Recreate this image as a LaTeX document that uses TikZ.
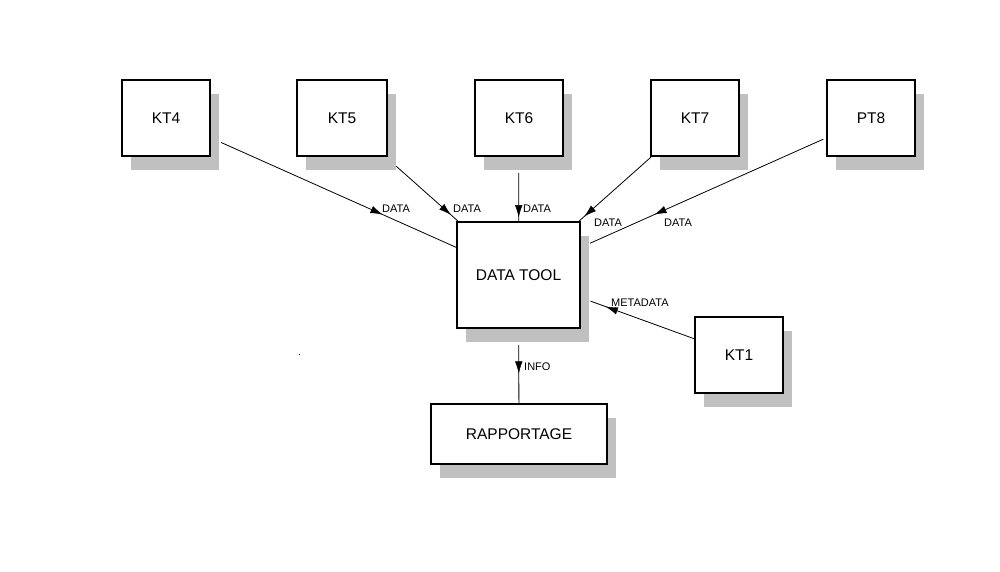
\documentclass[tikz,border=0pt]{standalone}
\usepackage{fontspec}
\setmainfont{Liberation Sans}
\usetikzlibrary{shadows,arrows.meta,decorations.markings}
\definecolor{shade}{RGB}{192,192,192}
\newcommand{\boxtxt}[1]{\raisebox{-2pt}{#1}}
\tikzset{
  box/.style={draw=black, line width=2pt, fill=white, inner sep=0pt,
    font=\fontsize{15.5}{18}\selectfont,
    general shadow={shadow xshift=9pt, shadow yshift=-14pt, fill=shade}},
  conn/.style={draw=black, line width=0.8pt},
  tipat/.style={postaction={decorate}, decoration={markings,
    mark=at position #1 with {\arrow{Latex[length=12pt,width=7.5pt]}}}},
  lbl/.style={font=\fontsize{11}{13}\selectfont, inner sep=0pt, anchor=west}
}
\begin{document}
\begin{tikzpicture}[x=1pt,y=-1pt]
\useasboundingbox (0,0) rectangle (1000,572);
% boxes
\node[box, minimum width=88pt, minimum height=76pt] (kt4) at (166,118) {\boxtxt{KT4}};
\node[box, minimum width=90pt, minimum height=76pt] (kt5) at (342,118) {\boxtxt{KT5}};
\node[box, minimum width=88pt, minimum height=76pt] (kt6) at (519,118) {\boxtxt{KT6}};
\node[box, minimum width=88pt, minimum height=76pt] (kt7) at (695,118) {\boxtxt{KT7}};
\node[box, minimum width=88pt, minimum height=76pt] (pt8) at (871,118) {\boxtxt{PT8}};
\node[box, minimum width=123pt, minimum height=106pt] (tool) at (518.5,275) {\boxtxt{DATA TOOL}};
\node[box, minimum width=88pt, minimum height=76pt] (kt1) at (739,355) {\boxtxt{KT1}};
\node[box, minimum width=176pt, minimum height=60pt] (rap) at (519,434) {\boxtxt{RAPPORTAGE}};
% connectors
\draw[conn, shorten <=11pt] (kt4) -- (tool);
\path[tipat=0.70] (kt4) -- (tool);
\draw[conn, shorten <=14pt] (kt5) -- (tool);
\path[tipat=0.905] (kt5) -- (tool);
\draw[conn, shorten <=16pt] (kt6) -- (tool);
\path[tipat=0.94] (kt6) -- (tool);
\draw[conn] (kt7) -- (tool);
\path[tipat=0.93] (kt7) -- (tool);
\draw[conn, shorten <=3pt, shorten >=10pt] (pt8) -- (tool);
\path[tipat=0.70] (pt8) -- (tool);
\draw[conn, shorten >=10pt] (kt1) -- (tool);
\path[tipat=0.78] (kt1) -- (tool);
\draw[conn, shorten <=16pt] (tool) -- (rap);
\path[tipat=0.60] (tool) -- (rap);
% labels
\node[lbl] (l4) at (382,209) {DATA};
\node[lbl] (l5) at (453,209) {DATA};
\node[lbl] (l6) at (523,209) {DATA};
\node[lbl] (l7) at (594,223) {DATA};
\node[lbl] (l8) at (664,223) {DATA};
\node[lbl] (lm) at (611,303) {METADATA};
\node[lbl] (li) at (524,367) {INFO};
% stray dot
\fill[black] (298.5,353.5) rectangle (299.5,354.5);
\end{tikzpicture}
\end{document}
